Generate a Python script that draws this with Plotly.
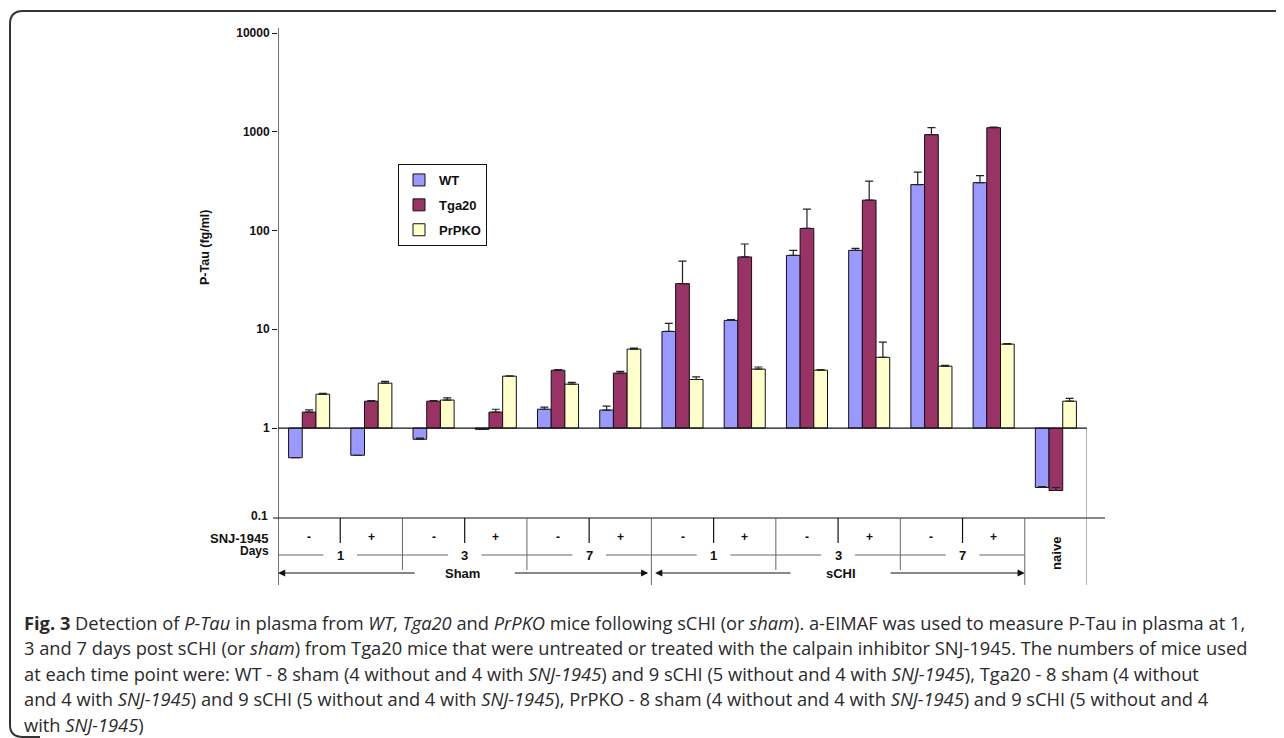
import plotly.graph_objects as go

# ---------------- data ----------------
categories = ["Sham 1 -", "Sham 1 +", "Sham 3 -", "Sham 3 +", "Sham 7 -", "Sham 7 +",
              "sCHI 1 -", "sCHI 1 +", "sCHI 3 -", "sCHI 3 +", "sCHI 7 -", "sCHI 7 +", "naive"]
snj_labels = ["-", "+", "-", "+", "-", "+", "-", "+", "-", "+", "-", "+"]
day_labels = ["1", "3", "7", "1", "3", "7"]

wt = [0.50, 0.53, 0.77, 0.97, 1.55, 1.52, 9.5, 12.3, 56, 63, 292, 305, 0.25]
wt_err = [0, 0, 0.02, 0, 0.08, 0.15, 2.0, 0.2, 7, 3, 98, 55, 0.005]
tga20 = [1.45, 1.87, 1.87, 1.45, 3.85, 3.6, 29, 54, 105, 203, 935, 1100, 0.233]
tga20_err = [0.08, 0.03, 0.03, 0.1, 0.05, 0.15, 20, 19, 60, 114, 165, 15, 0.017]
prpko = [2.2, 2.85, 1.92, 3.35, 2.78, 6.3, 3.1, 3.95, 3.85, 5.2, 4.23, 7.07, 1.87]
prpko_err = [0.05, 0.12, 0.1, 0.03, 0.12, 0.15, 0.2, 0.2, 0.05, 2.2, 0.08, 0.08, 0.13]

series_names = ["WT", "Tga20", "PrPKO"]
series_colors = ["#9999FF", "#993366", "#FFFFCC"]

y_tick_vals = [1, 10, 100, 1000, 10000]
y_tick_text = ["1", "10", "100", "1000", "10000"]

caption_lines = [
    "<b>Fig. 3</b> Detection of <i>P-Tau</i> in plasma from <i>WT</i>, <i>Tga20</i> and <i>PrPKO</i> mice following sCHI (or <i>sham</i>). a-EIMAF was used to measure P-Tau in plasma at 1,",
    "3 and 7 days post sCHI (or <i>sham</i>) from Tga20 mice that were untreated or treated with the calpain inhibitor SNJ-1945. The numbers of mice used",
    "at each time point were: WT - 8 sham (4 without and 4 with <i>SNJ-1945</i>) and 9 sCHI (5 without and 4 with <i>SNJ-1945</i>), Tga20 - 8 sham (4 without",
    "and 4 with <i>SNJ-1945</i>) and 9 sCHI (5 without and 4 with <i>SNJ-1945</i>), PrPKO - 8 sham (4 without and 4 with <i>SNJ-1945</i>) and 9 sCHI (5 without and 4",
    "with <i>SNJ-1945</i>)",
]

# ---------------- layout geometry (screen pixels; page body has 8px margin) ----------------
OFF = 8
SW, SH = 1284, 738
W, H = SW - OFF, SH - OFF
L, R, T, B = 278, 1087, 33, 518
PW, PH = R - L, B - T
Y_RANGE = [-0.911, 4]


def px(x):
    return (x - L) / PW


def py(y):
    return (B - y) / PH


FONT = "Liberation Sans, Arial, sans-serif"
CAP_FONT = "Open Sans, Noto Sans, sans-serif"

x_idx = list(range(len(categories)))

fig = go.Figure()
for name, vals, errs, col in zip(series_names, [wt, tga20, prpko],
                                 [wt_err, tga20_err, prpko_err], series_colors):
    fig.add_trace(go.Bar(
        name=name, x=x_idx, y=[v - 1 for v in vals], base=1,
        marker=dict(color=col, line=dict(color="#111111", width=1)),
        error_y=dict(type="data", symmetric=False, array=errs,
                     arrayminus=[0] * len(errs), color="#222222",
                     thickness=1.2, width=4),
        legendgroup=name, hoverinfo="skip",
    ))

shapes = []
line_blk = dict(color="#111111", width=1.2)
line_gray = dict(color="#666666", width=1)

# y axis line (through the table)
shapes.append(dict(type="line", xref="x", yref="paper", x0=-0.5, x1=-0.5,
                   y0=py(28), y1=py(585), line=line_blk))
# baseline at 1
shapes.append(dict(type="line", xref="x", yref="y", x0=-0.5, x1=12.5,
                   y0=1, y1=1, line=line_blk))
# bottom line of plot / top of table
shapes.append(dict(type="line", xref="paper", yref="paper", x0=px(273), x1=px(1105),
                   y0=0, y1=0, line=line_blk))
# short separators between - and +
for xv in [0.5, 2.5, 4.5, 6.5, 8.5, 10.5]:
    shapes.append(dict(type="line", xref="x", yref="paper", x0=xv, x1=xv,
                       y0=0, y1=py(543), line=line_blk))
# day boundaries
for xv in [1.5, 3.5, 7.5, 9.5]:
    shapes.append(dict(type="line", xref="x", yref="paper", x0=xv, x1=xv,
                       y0=0, y1=py(570), line=line_gray))
# major boundaries
for xv in [5.5, 11.5]:
    shapes.append(dict(type="line", xref="x", yref="paper", x0=xv, x1=xv,
                       y0=0, y1=py(585), line=line_gray))
one_frac = (0 - Y_RANGE[0]) / (Y_RANGE[1] - Y_RANGE[0])
shapes.append(dict(type="line", xref="x", yref="paper", x0=12.5, x1=12.5,
                   y0=one_frac, y1=py(585), line=line_gray))
# day lines
gap = 0.27
for start in [-0.5, 1.5, 3.5, 5.5, 7.5, 9.5]:
    c = start + 1
    for a, b in [(start, c - gap), (c + gap, start + 2)]:
        shapes.append(dict(type="line", xref="x", yref="paper", x0=a, x1=b,
                           y0=py(555), y1=py(555), line=line_gray))


# frame (rounded)
def P(x, y):
    return f"{px(x):.5f},{py(y):.5f}"


frame_path = (f"M {P(1290, 11)} L {P(23, 11)} Q {P(10, 11)} {P(10, 24)} "
              f"L {P(10, 725)} Q {P(10, 737)} {P(23, 737)} L {P(40, 737)}")
shapes.append(dict(type="path", xref="paper", yref="paper", path=frame_path,
                   line=dict(color="#333333", width=2)))

ann = []
bold = dict(family=FONT, size=12, color="#111111", weight="bold")
for i, s in enumerate(snj_labels):
    ann.append(dict(x=i, y=py(537), xref="x", yref="paper", text=s, showarrow=False,
                    font=bold, xanchor="center", yanchor="middle"))
for c, d in zip([0.5, 2.5, 4.5, 6.5, 8.5, 10.5], day_labels):
    ann.append(dict(x=c, y=py(555), xref="x", yref="paper", text=d, showarrow=False,
                    font=dict(bold, size=13), xanchor="center", yanchor="middle"))
ann.append(dict(x=2.47, y=py(573), xref="x", yref="paper", text="Sham", showarrow=False,
                font=dict(bold, size=13), xanchor="center", yanchor="middle"))
ann.append(dict(x=8.55, y=py(573), xref="x", yref="paper", text="sCHI", showarrow=False,
                font=dict(bold, size=13), xanchor="center", yanchor="middle"))
ann.append(dict(x=12, y=py(553), xref="x", yref="paper", text="naive", showarrow=False,
                font=dict(bold, size=13), textangle=-90, xanchor="center", yanchor="middle"))
ann.append(dict(x=px(271), y=py(538), xref="paper", yref="paper", text="SNJ-1945",
                showarrow=False, font=dict(bold, size=13), xanchor="right", yanchor="middle"))
ann.append(dict(x=px(271), y=py(551), xref="paper", yref="paper", text="Days",
                showarrow=False, font=bold, xanchor="right", yanchor="middle"))
ann.append(dict(x=px(270), y=py(516), xref="paper", yref="paper", text="0.1",
                showarrow=False, font=bold, xanchor="right", yanchor="middle"))
ann.append(dict(x=px(205), y=py(248), xref="paper", yref="paper", text="P-Tau (fg/ml)",
                showarrow=False, font=dict(bold, size=12.5), textangle=-90,
                xanchor="center", yanchor="middle"))

# arrows
ya = py(573)
for head, tail in [(-0.5, 1.72), (5.45, 3.28), (5.56, 7.76), (11.5, 9.32)]:
    ann.append(dict(x=head, y=ya, xref="x", yref="y domain", ax=tail, ay=ya,
                    axref="x", ayref="y domain", text="", showarrow=True,
                    arrowhead=2, arrowsize=1.2, arrowwidth=1.2, arrowcolor="#111111",
                    standoff=0, startstandoff=0))

# caption
for k, line in enumerate(caption_lines):
    ann.append(dict(x=px(22), y=py(622 + 25.5 * k), xref="paper", yref="paper", text=line,
                    showarrow=False, xanchor="left", yanchor="middle",
                    font=dict(family=CAP_FONT, size=18.3, color="#2a2a2a")))

fig.update_layout(
    width=W, height=H, autosize=False,
    margin=dict(l=L - OFF, r=SW - R, t=T - OFF, b=SH - B, pad=0),
    paper_bgcolor="white", plot_bgcolor="white",
    barmode="group", bargap=0.34, bargroupgap=0,
    showlegend=True,
    legend=dict(x=px(398), y=py(164), xanchor="left", yanchor="top",
                bgcolor="white", bordercolor="#111111", borderwidth=1,
                font=dict(family=FONT, size=13, color="#111111", weight="bold"),
                tracegroupgap=5, itemclick=False, itemwidth=30),
    xaxis=dict(range=[-0.5, 12.5], showticklabels=False, showgrid=False,
               zeroline=False, showline=False, ticks=""),
    yaxis=dict(type="log", range=Y_RANGE, tickvals=y_tick_vals, ticktext=y_tick_text,
               ticks="outside", ticklen=5, tickcolor="#111111", tickwidth=1,
               showgrid=False, zeroline=False, showline=False,
               tickfont=dict(family=FONT, size=12, color="#111111", weight="bold")),
    shapes=shapes, annotations=ann,
)

fig.write_html("out.html")
